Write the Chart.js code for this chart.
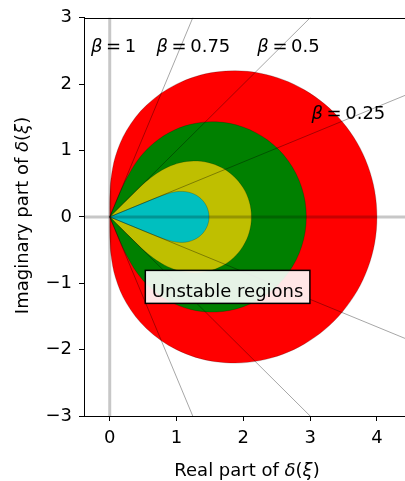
<!DOCTYPE html>
<html>
<head>
<meta charset="utf-8">
<script src="https://cdn.jsdelivr.net/npm/chart.js@4.4.0/dist/chart.umd.min.js"></script>
<style>
  html, body { margin: 0; padding: 0; background: #fff; }
  #wrap { width: 405px; height: 481px; }
</style>
</head>
<body>
<div id="wrap"><canvas id="stabilityChart" width="405" height="481"></canvas></div>
<script>
// boundary of each region (upper half, then lower half back to the origin)
const regionBeta1 = [
    [0, 0], [0, 0.087], [0.0002, 0.176], [0.004, 0.363], [0.018, 0.567], [0.086, 0.914], [0.25, 1.299],
    [0.549, 1.682], [1, 2], [1.585, 2.182], [2.25, 2.165], [2.914, 1.914], [3.482, 1.433], [3.865, 0.768], [4, 0],
    [3.865, -0.768], [3.482, -1.433], [2.914, -1.914], [2.25, -2.165], [1.585, -2.182], [1, -2], [0.549, -1.682],
    [0.25, -1.299], [0.086, -0.914], [0.018, -0.567], [0.004, -0.363], [0.0002, -0.176], [0, -0.087], [0, 0]
];
const regionBeta075 = [
    [0, 0], [0.062, 0.149], [0.104, 0.251], [0.181, 0.430], [0.261, 0.596], [0.408, 0.840], [0.610, 1.069],
    [0.879, 1.264], [1.212, 1.395], [1.594, 1.433], [1.992, 1.356], [2.365, 1.157], [2.672, 0.845], [2.873, 0.446], [2.943, 0],
    [2.873, -0.446], [2.672, -0.845], [2.365, -1.157], [1.992, -1.356], [1.594, -1.433], [1.212, -1.395], [0.879, -1.264],
    [0.610, -1.069], [0.408, -0.840], [0.261, -0.596], [0.181, -0.430], [0.104, -0.251], [0.062, -0.149], [0, 0]
];
const regionBeta05 = [
    [0, 0], [0.209, 0.209], [0.297, 0.297], [0.426, 0.423], [0.535, 0.524], [0.695, 0.650], [0.866, 0.750],
    [1.055, 0.817], [1.260, 0.843], [1.470, 0.820], [1.674, 0.744], [1.855, 0.614], [1.998, 0.438], [2.090, 0.228], [2.121, 0],
    [2.090, -0.228], [1.998, -0.438], [1.855, -0.614], [1.674, -0.744], [1.470, -0.820], [1.260, -0.843], [1.055, -0.817],
    [0.866, -0.750], [0.695, -0.650], [0.535, -0.524], [0.426, -0.423], [0.297, -0.297], [0.209, -0.209], [0, 0]
];
const regionBeta025 = [
    [0, 0], [0.502, 0.208], [0.598, 0.248], [0.716, 0.295], [0.800, 0.327], [0.904, 0.361], [0.998, 0.380],
    [1.089, 0.384], [1.177, 0.373], [1.260, 0.345], [1.334, 0.301], [1.398, 0.241], [1.446, 0.169], [1.476, 0.087], [1.487, 0],
    [1.476, -0.087], [1.446, -0.169], [1.398, -0.241], [1.334, -0.301], [1.260, -0.345], [1.177, -0.373], [1.089, -0.384],
    [0.998, -0.380], [0.904, -0.361], [0.800, -0.327], [0.716, -0.295], [0.598, -0.248], [0.502, -0.208], [0, 0]
];

// rays from the origin, one pair per beta
const rayBeta075 = [[2.0, -4.828], [0, 0], [2.0, 4.828]];
const rayBeta05 = [[5, -5], [0, 0], [5, 5]];
const rayBeta025 = [[5, -2.071], [0, 0], [5, 2.071]];

// zero lines
const zeroVertical = [[0, -4], [0, 4]];
const zeroHorizontal = [[-1, 0], [5, 0]];

const betaValues = ['1', '0.75', '0.5', '0.25'];
const xTicks = [0, 1, 2, 3, 4];
const yTicks = [-3, -2, -1, 0, 1, 2, 3];

const FONT = '"DejaVu Sans", "Liberation Sans", sans-serif';

function pts(arr) {
    return arr.map(p => ({x: p[0], y: p[1]}));
}

function regionSet(data, color, order) {
    return {
        data: pts(data),
        showLine: true,
        fill: 'shape',
        backgroundColor: color,
        borderColor: 'rgba(0,0,0,0.25)',
        borderWidth: 0.8,
        pointRadius: 0,
        tension: 0.35,
        order: order
    };
}

function lineSet(data, color, width, order) {
    return {
        data: pts(data),
        showLine: true,
        fill: false,
        borderColor: color,
        borderWidth: width,
        pointRadius: 0,
        tension: 0,
        order: order
    };
}

// draws a run of text pieces, some in italic (math symbols)
function mixedText(ctx, parts, x, y, align) {
    const fonts = parts.map(p => (p[1] ? 'italic ' : '') + '18px ' + FONT);
    let total = 0;
    const widths = parts.map((p, i) => {
        ctx.font = fonts[i];
        const w = ctx.measureText(p[0]).width;
        total += w;
        return w;
    });
    let cx = align === 'center' ? x - total / 2 : x;
    parts.forEach((p, i) => {
        ctx.font = fonts[i];
        ctx.fillText(p[0], cx, y);
        cx += widths[i];
    });
    return total;
}

const decorations = {
    id: 'decorations',
    afterDatasetsDraw(chart) {
        const {ctx, chartArea: area, scales: {x, y}} = chart;
        ctx.save();
        ctx.textAlign = 'left';
        ctx.textBaseline = 'alphabetic';
        ctx.fillStyle = '#000';

        // top spine
        ctx.strokeStyle = '#000';
        ctx.lineWidth = 1;
        ctx.beginPath();
        ctx.moveTo(area.left, Math.round(area.top) + 0.5);
        ctx.lineTo(area.right, Math.round(area.top) + 0.5);
        ctx.stroke();

        // beta labels
        const labelPos = [[-0.28, 2.48], [0.70, 2.48], [2.21, 2.48], [3.02, 1.47]];
        betaValues.forEach((v, i) => {
            const px = x.getPixelForValue(labelPos[i][0]);
            const py = y.getPixelForValue(labelPos[i][1]);
            mixedText(ctx, [['\u03b2', true], ['\u2009=\u2009' + v, false]], px, py, 'left');
        });

        // "Unstable regions" box
        const tx = x.getPixelForValue(0.63);
        const ty = y.getPixelForValue(-1.205);
        ctx.font = '18px ' + FONT;
        const tw = ctx.measureText('Unstable regions').width;
        ctx.fillStyle = 'rgba(255,255,255,0.9)';
        ctx.fillRect(tx - 6.5, ty - 26.5, tw + 13, 33);
        ctx.strokeStyle = '#000';
        ctx.lineWidth = 1.5;
        ctx.strokeRect(tx - 6.5, ty - 26.5, tw + 13, 33);
        ctx.fillStyle = '#000';
        ctx.fillText('Unstable regions', tx, ty);

        ctx.restore();
    },
    afterDraw(chart) {
        const ctx = chart.ctx;
        ctx.save();
        ctx.fillStyle = '#000';
        ctx.textBaseline = 'alphabetic';
        ctx.textAlign = 'left';
        const tail = [['\u03b4', true], ['(', false], ['\u03be', true], [')', false]];
        mixedText(ctx, [['Real part of ', false]].concat(tail), 247, 476, 'center');
        ctx.translate(28, 215.5);
        ctx.rotate(-Math.PI / 2);
        mixedText(ctx, [['Imaginary part of ', false]].concat(tail), 0, 0, 'center');
        ctx.restore();
    }
};

function axisStyle(min, max, ticks, fitter) {
    return {
        type: 'linear',
        min: min,
        max: max,
        afterBuildTicks: scale => { scale.ticks = ticks.map(v => ({value: v})); },
        afterFit: fitter,
        ticks: {
            color: '#000',
            font: {family: FONT, size: 18},
            padding: 7,
            callback: v => String(v).replace('-', '\u2212')
        },
        grid: {drawOnChartArea: false, color: '#000', tickLength: 5, tickWidth: 1},
        border: {display: true, color: '#000', width: 1}
    };
}

document.addEventListener('DOMContentLoaded', function() {
    const ctx = document.getElementById('stabilityChart').getContext('2d');
    new Chart(ctx, {
        type: 'scatter',
        data: {
            datasets: [
                lineSet(rayBeta075, 'rgba(0,0,0,0.35)', 1, 1),
                lineSet(rayBeta05, 'rgba(0,0,0,0.35)', 1, 1),
                lineSet(rayBeta025, 'rgba(0,0,0,0.35)', 1, 1),
                lineSet(zeroVertical, 'rgba(0,0,0,0.22)', 3, 2),
                lineSet(zeroHorizontal, 'rgba(0,0,0,0.22)', 3, 2),
                regionSet(regionBeta025, '#00bfbf', 7),
                regionSet(regionBeta05, '#bfbf00', 8),
                regionSet(regionBeta075, '#008000', 9),
                regionSet(regionBeta1, '#ff0000', 10)
            ]
        },
        options: {
            responsive: false,
            animation: false,
            layout: {padding: {top: 15, right: 0, bottom: 0, left: 0}},
            plugins: {
                legend: {display: false},
                tooltip: {enabled: false}
            },
            scales: {
                x: axisStyle(-0.385, 4.42, xTicks, scale => { scale.height = 65; }),
                y: axisStyle(-3, 3, yTicks, scale => { scale.width = 84; })
            }
        },
        plugins: [decorations]
    });
});
</script>
</body>
</html>
